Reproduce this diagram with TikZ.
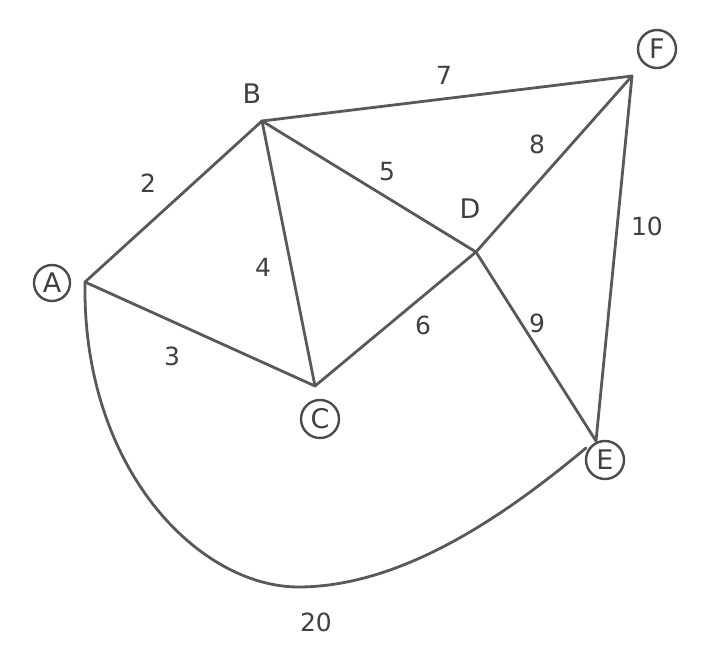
\documentclass[tikz,border=0pt]{standalone}
\usepackage{fontspec}
\setmainfont{DejaVu Sans}
\begin{document}
\begin{tikzpicture}[x=1pt,y=-1pt,
  edge/.style={draw=black!65,line width=2.8pt,line cap=round},
  vlab/.style={font=\fontsize{27}{30}\selectfont,text=black!75,inner sep=0pt},
  cvlab/.style={vlab,draw=black!70,line width=2.4pt,circle,minimum size=38pt},
  wlab/.style={font=\fontsize{25}{28}\selectfont,text=black!75,inner sep=0pt}]
\useasboundingbox (0,0) rectangle (705,659);
\fill[white] (0,0) rectangle (705,659);
% vertices
\coordinate (A) at (85,282);
\coordinate (B) at (262,121);
\coordinate (C) at (315,386);
\coordinate (D) at (476,252);
\coordinate (E) at (596,441);
\coordinate (F) at (632,76);
\coordinate (Ee) at (586,448);
% labels
\node[cvlab,minimum size=36pt] (lA) at (52,283) {A};
\node[vlab] (lB) at (252,94) {B};
\node[cvlab] (lC) at (320,419) {C};
\node[vlab] (lD) at (470,209) {D};
\node[cvlab] (lE) at (605,460) {E};
\node[cvlab] (lF) at (657,49) {F};
% edges
\draw[edge] (A) -- (B);
\draw[edge] (A) -- (C);
\draw[edge] (B) -- (C);
\draw[edge] (B) -- (D);
\draw[edge] (C) -- (D);
\draw[edge] (B) -- (F);
\draw[edge] (D) -- (F);
\draw[edge] (D) -- (E);
\draw[edge] (F) -- (E);
\draw[edge] (A) .. controls (82,470) and (200,588) .. (300,587)
  .. controls (400,586) and (500,520) .. (Ee);
% weights
\node[wlab] (w2) at (148,183) {2};
\node[wlab] (w3) at (172,356) {3};
\node[wlab] (w4) at (263,267) {4};
\node[wlab] (w5) at (387,172) {5};
\node[wlab] (w6) at (423,325) {6};
\node[wlab] (w7) at (444,75) {7};
\node[wlab] (w8) at (537,144) {8};
\node[wlab] (w9) at (537,323) {9};
\node[wlab] (w10) at (647,226) {10};
\node[wlab] (w20) at (316,622) {20};
\end{tikzpicture}
\end{document}
